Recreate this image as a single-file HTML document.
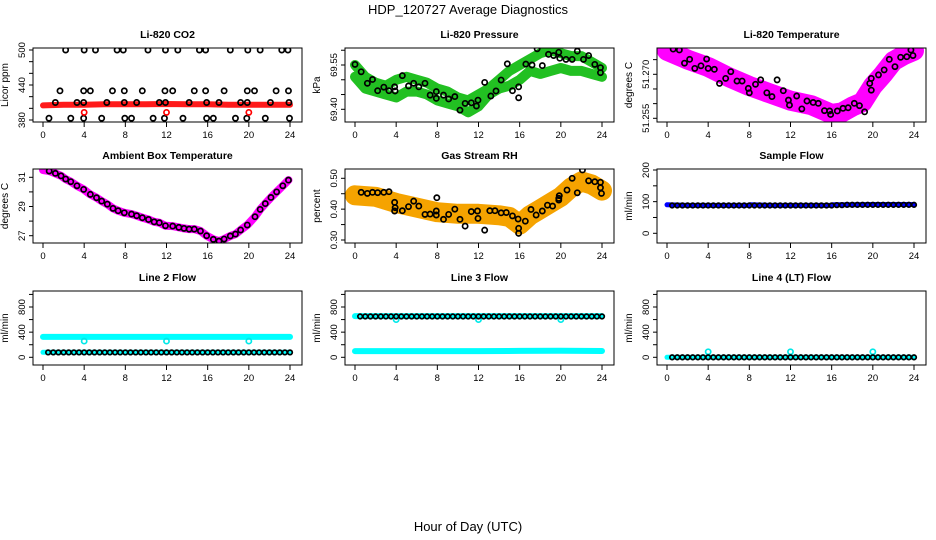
<!DOCTYPE html>
<html><head><meta charset="utf-8"><style>
html,body{margin:0;padding:0;background:#fff}
svg{display:block;font-family:"Liberation Sans",Arial,sans-serif}
</style></head><body>
<svg id="chart" width="936" height="540" viewBox="0 0 936 540" xmlns="http://www.w3.org/2000/svg">
<defs id="defs"></defs>
<text x="468" y="14" text-anchor="middle" font-size="13">HDP_120727  Average Diagnostics</text>
<text x="468" y="531" text-anchor="middle" font-size="13">Hour of Day (UTC)</text>
</svg>
<script>
// ---- data ----
const xTicks = [0,4,8,12,16,20,24];
// CO2
const co2BandH = [0,2,4,6,8,10,12,14,16,18,20,22,24];
const co2BandV = [405,406,406,407,407,407,407.5,407,407,406,406,406,406];
const co2H500 = [2.2,4.0,5.1,7.2,7.8,10.2,11.9,13.1,15.2,15.8,18.2,19.9,21.1,23.2,23.8];
const co2H430 = [1.65,3.95,4.6,6.75,7.9,9.65,11.85,12.6,14.7,15.8,17.6,19.85,20.55,22.65,23.85];
const co2H410 = [1.2,3.3,3.95,6.2,7.9,9.1,11.3,11.9,14.2,15.9,17.1,19.2,19.85,22.1,23.9];
const co2H383 = [0.58,2.7,3.95,5.7,7.95,8.6,10.7,11.8,13.6,15.9,16.55,18.7,19.8,21.6,23.95];
const co2RedH = [4.0,12.0,20.0];
const co2RedV = [393,393,393];
// Pressure
const presBandH = [0,1,2,3,4,5,6,7,8,9,10,11,12,13,14,15,16,17,18,19,20,21,22,23,24];
const presUpper = [69.55,69.51,69.49,69.48,69.5,69.51,69.5,69.49,69.47,69.46,69.44,69.43,69.45,69.47,69.5,69.53,69.55,69.57,69.59,69.6,69.59,69.58,69.58,69.56,69.54];
const presLower = [69.51,69.47,69.46,69.45,69.44,69.46,69.46,69.45,69.43,69.42,69.41,69.39,69.41,69.45,69.47,69.48,69.5,69.53,69.52,69.53,69.54,69.53,69.53,69.52,69.51];
const presPtH = [0,0.6,1.2,1.7,2.2,2.8,3.3,3.85,3.9,4.6,5.2,5.7,6.2,6.8,7.3,7.9,7.9,8.6,9.1,9.7,10.2,10.7,11.3,11.8,11.95,12.6,13.2,13.7,14.2,14.8,15.3,15.9,15.9,16.6,17.2,17.7,18.2,18.8,19.3,19.8,19.9,20.5,21.1,21.6,22.2,22.7,23.3,23.85,23.85];
const presPtV = [69.552,69.527,69.488,69.501,69.463,69.475,69.463,69.476,69.462,69.514,69.479,69.488,69.476,69.488,69.448,69.46,69.437,69.448,69.435,69.443,69.397,69.42,69.422,69.411,69.431,69.491,69.445,69.462,69.499,69.554,69.463,69.476,69.439,69.553,69.55,69.605,69.548,69.586,69.582,69.593,69.573,69.569,69.569,69.597,69.569,69.582,69.552,69.541,69.524];
// Li-820 temperature
const tempBandH = [0,2,4,6,8,10,12,14,16,17,18,19,20,21,22,23,24];
const tempBandV = [51.278,51.275,51.2725,51.269,51.266,51.2635,51.261,51.2595,51.2565,51.257,51.259,51.2605,51.266,51.27,51.2745,51.2765,51.278];
const tempPtH = [0.6,1.2,1.7,2.2,2.7,3.3,3.85,4.0,4.6,5.1,5.7,6.2,6.8,7.3,7.9,8.0,8.6,9.1,9.7,10.2,10.7,11.3,11.8,11.9,12.6,13.1,13.6,14.2,14.7,15.3,15.8,15.9,16.55,17.1,17.6,18.2,18.7,19.2,19.7,19.85,19.85,20.55,21.1,21.6,22.15,22.7,23.3,23.7,23.9];
const tempPtV = [51.2786,51.2783,51.2738,51.2751,51.272,51.2729,51.2752,51.272,51.2717,51.2669,51.2686,51.2709,51.2677,51.2677,51.2652,51.2637,51.2666,51.2681,51.2637,51.2624,51.2681,51.2644,51.2612,51.2595,51.2626,51.2582,51.2609,51.2604,51.2601,51.2576,51.2575,51.2563,51.2575,51.2584,51.2586,51.2601,51.2593,51.2572,51.2669,51.2686,51.2646,51.2698,51.2715,51.2751,51.2726,51.2758,51.276,51.2783,51.2764];
// Ambient box temperature
const ambH = [0.6,1.2,1.75,2.2,2.7,3.3,3.95,4.6,5.2,5.7,6.25,6.8,7.3,7.9,8.6,9.1,9.65,10.25,10.8,11.3,11.9,12.6,13.2,13.7,14.2,14.7,15.3,15.9,16.55,17.1,17.6,18.2,18.7,19.2,19.85,20.6,21.1,21.6,22.15,22.7,23.3,23.85];
const ambV = [31.43,31.27,31.1,30.88,30.7,30.42,30.17,29.83,29.6,29.37,29.16,28.87,28.71,28.57,28.48,28.37,28.23,28.11,27.95,27.89,27.68,27.66,27.57,27.5,27.45,27.45,27.32,27.0,26.75,26.63,26.77,26.98,27.11,27.39,27.73,28.3,28.8,29.2,29.62,30.0,30.42,30.81];
// Gas stream RH
const rhBandH = [0,2,4,6,8,10,12,14,15,16,17,18,19,20,21,22,23,24];
const rhBandV = [0.445,0.44,0.42,0.405,0.39,0.385,0.385,0.38,0.375,0.35,0.38,0.4,0.42,0.44,0.47,0.49,0.48,0.46];
const rhPtH = [0.6,1.2,1.7,2.2,2.8,3.3,3.85,3.85,3.9,4.6,5.2,5.7,6.2,6.8,7.3,7.9,7.9,7.95,8.6,9.1,9.7,10.2,10.7,11.3,11.9,11.95,12.6,13.1,13.6,14.2,14.7,15.3,15.85,15.9,15.9,16.55,17.1,17.6,18.2,18.7,19.2,19.8,19.85,19.8,20.6,21.1,21.6,22.1,22.7,23.3,23.85,23.85,23.95];
const rhPtV = [0.4545,0.451,0.4545,0.4535,0.4545,0.4566,0.422,0.394,0.4048,0.395,0.408,0.426,0.41,0.383,0.384,0.394,0.381,0.437,0.367,0.383,0.4,0.367,0.345,0.392,0.394,0.37,0.332,0.395,0.395,0.388,0.389,0.378,0.368,0.338,0.3215,0.361,0.399,0.381,0.394,0.413,0.41,0.435,0.4435,0.4295,0.462,0.5,0.453,0.527,0.492,0.489,0.487,0.4695,0.451];
// Flows
const flowH = [0.5,1,1.5,2,2.5,3,3.5,4,4.5,5,5.5,6,6.5,7,7.5,8,8.5,9,9.5,10,10.5,11,11.5,12,12.5,13,13.5,14,14.5,15,15.5,16,16.5,17,17.5,18,18.5,19,19.5,20,20.5,21,21.5,22,22.5,23,23.5,24];
const sampleFlow = [88,88,88,88,88,88,88,88,88,88,88,88,88,88,88,88,88,88,88,88,88,88,88,88,88,88,88,88,88,88,88,88,89,89,90,90,90,90,90,90,90,90,90,90,90,90,90,90];
const sampleBandV = [90,88,88,88,88,90,88,88,88,90,90,91,91,91];
const sampleBandH = [0,2,4,6,8,8.1,10,12,16,16.1,18,20,22,24];
const line2Flow = [78,78,78,78,78,78,78,78,78,78,78,78,78,78,78,78,78,78,78,78,78,78,78,78,78,78,78,78,78,78,78,78,78,78,78,78,78,78,78,78,78,78,78,78,78,78,78,78];
const line2CyanHi = [325,325,325,325,325,325,325];
const line2CyanLo = [80,80,80,80,80,80,80];
const line2DipH = [4,12,20];
const line2DipV = [258,258,258];
const line3Flow = [650,650,650,650,650,650,650,650,650,650,650,650,650,650,650,650,650,650,650,650,650,650,650,650,650,650,650,650,650,650,650,650,650,650,650,650,650,650,650,650,650,650,650,650,650,650,650,650];
const line3CyanHi = [655,655,655,655,655,655,655];
const line3CyanLo = [98,98,98,98,102,104,100];
const line3DipH = [4,12,20];
const line3DipV = [600,600,600];
const line4Flow = [0,0,0,0,0,0,0,0,0,0,0,0,0,0,0,0,0,0,0,0,0,0,0,0,0,0,0,0,0,0,0,0,0,0,0,0,0,0,0,0,0,0,0,0,0,0,0,0];
const line4Cyan = [0,0,0,0,0,0,0];
const line4DipH = [4,12,20];
const line4DipV = [88,88,88];

// ---- drawing ----
const NS = "http://www.w3.org/2000/svg";
const svg = document.getElementById("chart");
const defs = document.getElementById("defs");
function mk(tag, attrs, parent){
  const e = document.createElementNS(NS, tag);
  for (const k in attrs) e.setAttribute(k, attrs[k]);
  (parent||svg).appendChild(e);
  return e;
}
const rowTop = [48,169,291], rowBot = [122,243,365];
function xs(col){ return h => 43 + 312*col + h*247/24; }
function ys(v0,p0,v1,p1){ return v => p0 + (v-v0)*(p1-p0)/(v1-v0); }

function panel(name, col, row, title, ylab, ysc, ticks, labels){
  const g = mk("g", {});
  
  
  const L = 33+312*col, R = 302+312*col, T = rowTop[row], B = rowBot[row];
  const cp = mk("clipPath", {id:"clip-"+name}, defs);
  mk("rect", {x:L, y:T, width:R-L, height:B-T}, cp);
  const t = mk("text", {x:(L+R)/2, y:T-10, "text-anchor":"middle", "font-size":"10.5", "font-weight":"bold"}, g);
  t.textContent = title;
  
  
  const X = xs(col);
  xTicks.forEach(v => {
    mk("line", {x1:X(v), x2:X(v), y1:B, y2:B+5, stroke:"#000", "stroke-width":"1"}, g);
    const tl = mk("text", {x:X(v), y:B+16, "text-anchor":"middle", "font-size":"9.5"}, g);
    tl.textContent = v;
    
    
  });
  ticks.forEach(v => {
    mk("line", {x1:L-4, x2:L, y1:ysc(v), y2:ysc(v), stroke:"#000", "stroke-width":"1"}, g);
  });
  labels.forEach(l => {
    const yy = ysc(l.v);
    const tl = mk("text", {x:L-8, y:yy, "text-anchor":"middle", "font-size":"9.5", transform:`rotate(-90 ${L-8} ${yy})`}, g);
    tl.textContent = l.t;
    
    
  });
  const yt = mk("text", {x:L-25, y:(T+B)/2, "text-anchor":"middle", "font-size":"10", transform:`rotate(-90 ${L-25} ${(T+B)/2})`}, g);
  yt.textContent = ylab;
  
  
  const plot = mk("g", {"clip-path":"url(#clip-"+name+")"}, g);
  
  
  const box = mk("rect", {x:L, y:T, width:R-L, height:B-T, fill:"none", stroke:"#000", "stroke-width":"1"}, g);
  
  
  return {g:plot, X, Y:ysc};
}
function band(p, H, V, color, w, nm){
  const pts = H.map((h,i)=> p.X(h).toFixed(1)+","+p.Y(V[i]).toFixed(1)).join(" ");
  const e = mk("polyline", {points:pts, fill:"none", stroke:color, "stroke-width":w, "stroke-linecap":"round", "stroke-linejoin":"round"}, p.g);
  
  
}
function pts(p, H, V, color, nm, r){
  H.forEach((h,i)=>{
    const c = mk("circle", {cx:p.X(h), cy:p.Y(V[i]), r:r||2.6, fill:"none", stroke:color, "stroke-width":"1.7"}, p.g);
    
    
  });
}
const hv = [0,4,8,12,16,20,24];

let p = panel("co2",0,0,"Li-820 CO2","Licor ppm", ys(500,50,380,120), [380,400,420,440,460,480,500], [{v:380,t:"380"},{v:440,t:"440"},{v:500,t:"500"}]);
band(p, co2BandH, co2BandV, "#ff1a1a", 6, "co2-red-band");
pts(p, co2H500, co2H500.map(()=>500), "#000", "co2-point");
pts(p, co2H430, co2H430.map(()=>430), "#000", "co2-point");
pts(p, co2H410, co2H410.map(()=>410), "#000", "co2-point");
pts(p, co2H383, co2H383.map(()=>383), "#000", "co2-point");
pts(p, co2RedH, co2RedV, "#ff0000", "co2-red-point");

p = panel("pressure",1,0,"Li-820 Pressure","kPa", ys(69.55,65,69.40,109.3), [69.40,69.45,69.50,69.55,69.60], [{v:69.40,t:"69.40"},{v:69.55,t:"69.55"}]);
band(p, presBandH, presUpper, "#22c022", 10, "pressure-band-upper");
band(p, presBandH, presLower, "#22c022", 10, "pressure-band-lower");
pts(p, presPtH, presPtV, "#000", "pressure-point");

p = panel("li820-temp",2,0,"Li-820 Temperature","degrees C", ys(51.270,74.3,51.255,118.3), [51.255,51.260,51.265,51.270,51.275], [{v:51.255,t:"51.255"},{v:51.270,t:"51.270"}]);
band(p, tempBandH, tempBandV, "#ff00ff", 20, "temp-magenta-band");
pts(p, tempPtH, tempPtV, "#000", "temp-point");

p = panel("ambient",0,1,"Ambient Box Temperature","degrees C", ys(31,177.3,27,235.7), [27,28,29,30,31], [{v:27,t:"27"},{v:29,t:"29"},{v:31,t:"31"}]);
band(p, [0].concat(ambH), [31.5].concat(ambV), "#ff00ff", 8, "ambient-magenta-band");
pts(p, ambH, ambV, "#000", "ambient-point");

p = panel("rh",1,1,"Gas Stream RH","percent", ys(0.50,178.3,0.30,240), [0.30,0.35,0.40,0.45,0.50], [{v:0.30,t:"0.30"},{v:0.40,t:"0.40"},{v:0.50,t:"0.50"}]);
band(p, rhBandH, rhBandV, "#f5a300", 20, "rh-orange-band");
pts(p, rhPtH, rhPtV, "#000", "rh-point");

p = panel("sample-flow",2,1,"Sample Flow","ml/min", ys(200,170,0,233.3), [0,50,100,150,200], [{v:0,t:"0"},{v:100,t:"100"},{v:200,t:"200"}]);
band(p, sampleBandH, sampleBandV, "#0000ff", 5, "sample-blue-band");
pts(p, flowH, sampleFlow, "#000", "sample-point", 2.3);

const rowTicks = [0,200,400,600,800,1000], rowLabels = [{v:0,t:"0"},{v:400,t:"400"},{v:800,t:"800"}];
p = panel("line2",0,2,"Line 2 Flow","ml/min", ys(0,357.3,800,307), rowTicks, rowLabels);
band(p, hv, line2CyanHi, "#00ffff", 6, "line2-cyan-band");
band(p, hv, line2CyanLo, "#00ffff", 5, "line2-cyan-low-band");
pts(p, line2DipH, line2DipV, "#00e8e8", "line2-cyan-point");
pts(p, flowH, line2Flow, "#000", "line2-point", 2.3);

p = panel("line3",1,2,"Line 3 Flow","ml/min", ys(0,357.3,800,307), rowTicks, rowLabels);
band(p, hv, line3CyanHi, "#00ffff", 6, "line3-cyan-band");
band(p, hv, line3CyanLo, "#00ffff", 6, "line3-cyan-low-band");
pts(p, line3DipH, line3DipV, "#00e8e8", "line3-cyan-point");
pts(p, flowH, line3Flow, "#000", "line3-point", 2.3);

p = panel("line4",2,2,"Line 4 (LT) Flow","ml/min", ys(0,357.3,800,307), rowTicks, rowLabels);
band(p, hv, line4Cyan, "#00ffff", 5, "line4-cyan-band");
pts(p, line4DipH, line4DipV, "#00e8e8", "line4-cyan-point");
pts(p, flowH, line4Flow, "#000", "line4-point", 2.3);
</script>
</body></html>
